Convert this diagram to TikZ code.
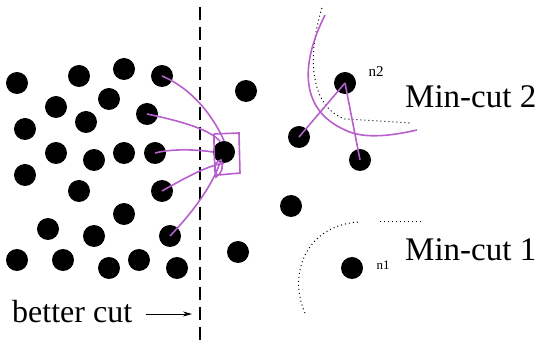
\documentclass[tikz,border=0pt]{standalone}
\usepackage{fontspec}
\setmainfont{Liberation Serif}
\usetikzlibrary{arrows.meta, positioning}
\definecolor{cutpurple}{RGB}{185,95,205}

\begin{document}
\begin{tikzpicture}[
        x=1pt, y=-1pt,
        dot/.style={circle, fill=black, minimum size=22pt, inner sep=0pt},
        cutline/.style={cutpurple, line width=1.6pt},
        mincut/.style={line width=1pt, dash pattern=on 1pt off 3pt},
        bigtext/.style={font=\fontsize{33}{36}\selectfont, inner sep=0pt, anchor=west},
        tag/.style={inner sep=0pt}
    ]
        \useasboundingbox (0,0) rectangle (538,344);

        % left cluster
        \foreach \x/\y [count=\i] in {17/83, 79/76, 124/69, 162/76, 56/107, 109/99, 147/114,
                25/129, 86/122, 56/153, 94/160, 124/153, 155/153, 25/175, 79/191, 162/191,
                124/214, 48/229, 94/236, 170/236, 17/260, 63/260, 109/268, 139/260, 177/268}
            \node[dot] (a\i) at (\x,\y) {};

        % right side
        \node[dot] (hub) at (224,152) {};
        \node[dot] (b1) at (246,91) {};
        \node[dot] (b2) at (291,206) {};
        \node[dot] (b3) at (238,252) {};
        \node[dot] (n2) at (345,83) {};
        \node[dot] (c1) at (299,137) {};
        \node[dot] (c2) at (360,160) {};
        \node[dot] (n1) at (352,268) {};

        \node[tag, font=\fontsize{15}{16}\selectfont] (n2lab) at (376,72) {n2};
        \node[tag, font=\fontsize{13}{14}\selectfont] (n1lab) at (383,265) {n1};
        \node[bigtext] (cut2) at (405,97) {Min-cut 2};
        \node[bigtext] (cut1) at (405,250) {Min-cut 1};
        \node[bigtext, font=\fontsize{32}{35}\selectfont] (better) at (12,312) {better cut};

        % the cut line
        \coordinate (top) at (200,7);
        \coordinate (bot) at (200,344);
        \coordinate (tip) at (192,314);
        \draw[line width=2.5pt, dash pattern=on 13pt off 7pt] (top) -- (bot);
        \draw[-{Stealth[length=9pt, width=5pt]}, line width=0.8pt] ([xshift=14pt, yshift=-2pt]better.east) -- (tip);

        % dotted min-cuts
        \draw[mincut] (322,8) .. controls (310,45) and (305,105) .. (345,119) -- (412,123);
        \draw[mincut] (305,313) .. controls (288,275) and (305,226) .. (358,222);
        \draw[mincut] (380,222) -- (422,222);

        % purple edges into the hub
        \draw[cutline] (a4.center) .. controls (195,90) and (215,120) .. (hub.north);
        \draw[cutline] (a7.center) .. controls (185,122) and (210,130) .. (hub.110);
        \draw[cutline] (a13.center) .. controls (175,148) and (200,150) .. (hub.west);
        \draw[cutline] (a16.center) .. controls (190,175) and (210,165) .. (hub.south);
        \draw[cutline] (a20.center) .. controls (190,215) and (210,190) .. (hub.250);
        \draw[cutline] (214,134) -- (239,133) -- (240,173) -- (218,175)
            .. controls (213,174) and (213,162) .. (221,160) .. controls (224,166) and (222,174) .. (216,177)
            .. controls (214,160) and (214,145) .. (214,134);

        % purple edges around n2
        \draw[cutline] (n2.center) -- (c1.center);
        \draw[cutline] (n2.center) -- (c2.center);
        \draw[cutline] (325,15) .. controls (300,65) and (300,110) .. (345,130)
            .. controls (365,140) and (395,135) .. (417,130);
    \end{tikzpicture}
\end{document}
